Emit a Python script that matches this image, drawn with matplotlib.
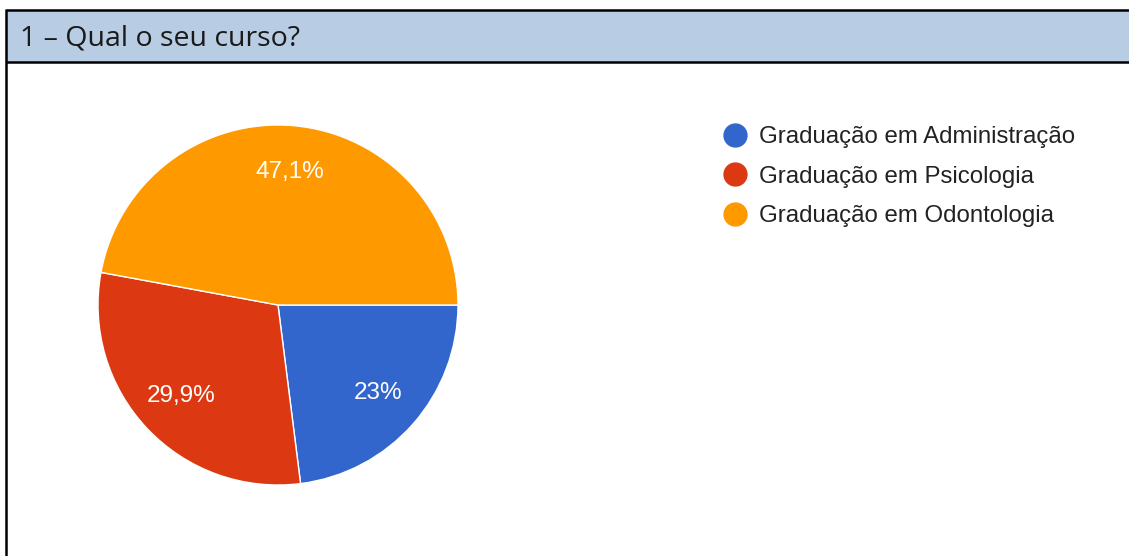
import matplotlib
matplotlib.use("Agg")
import matplotlib.pyplot as plt
from matplotlib.lines import Line2D
from matplotlib.patches import Rectangle

# ---- data ----
title = "1 – Qual o seu curso?"
categories = ["Graduação em Administração", "Graduação em Psicologia", "Graduação em Odontologia"]
values = [23.0, 29.9, 47.1]
colors = ["#3366cc", "#dc3912", "#ff9900"]

W, H = 1129, 556
fig = plt.figure(figsize=(W / 100, H / 100), dpi=100)

# background axes in pixel coordinates (y downwards)
bg = fig.add_axes([0, 0, 1, 1])
bg.set_xlim(0, W)
bg.set_ylim(H, 0)
bg.axis("off")

bg.add_patch(Rectangle((6, 10), W, 52, facecolor="#b8cce4", edgecolor="none", zorder=1))
bg.plot([6, W], [10, 10], color="black", lw=1.8, solid_capstyle="butt", zorder=2)
bg.plot([6, W], [62, 62], color="black", lw=1.8, solid_capstyle="butt", zorder=2)
bg.plot([6, 6], [9.1, H], color="black", lw=1.8, solid_capstyle="butt", zorder=2)
bg.text(20, 38, title, fontsize=20.5, family=["Open Sans", "DejaVu Sans"],
        color="#1a1a1a", va="center", ha="left", zorder=3)

# pie axes: centre (278, 305) px, radius 180 px
cx, cy, r = 278, 305, 180
pax = fig.add_axes([(cx - r) / W, (H - cy - r) / H, 2 * r / W, 2 * r / H])


def fmt(p):
    s = f"{p:.1f}"
    if s.endswith(".0"):
        s = s[:-2]
    return s.replace(".", ",") + "%"


wedges, texts, autotexts = pax.pie(
    values, colors=colors, startangle=0, counterclock=False,
    autopct=fmt, pctdistance=0.74,
    wedgeprops=dict(edgecolor="white", linewidth=1.0),
    textprops=dict(color="white", fontsize=17.5, family=["Liberation Sans", "DejaVu Sans"]),
)
pax.set_xlim(-1, 1)
pax.set_ylim(-1, 1)
pax.set_aspect("equal")
pax.axis("off")

handles = [Line2D([0], [0], marker="o", linestyle="none", markersize=16.5,
                  markerfacecolor=c, markeredgecolor=c) for c in colors]
leg = fig.legend(handles, categories, loc="upper left",
                 bbox_to_anchor=(723 / W, 1 - 126 / H),
                 frameon=False, handlelength=1.0, handletextpad=0.5,
                 labelspacing=0.73, borderpad=0, borderaxespad=0,
                 prop=dict(family=["Liberation Sans", "DejaVu Sans"], size=17.3))
for t in leg.get_texts():
    t.set_color("#222222")

fig.savefig("out.png", dpi=100)
